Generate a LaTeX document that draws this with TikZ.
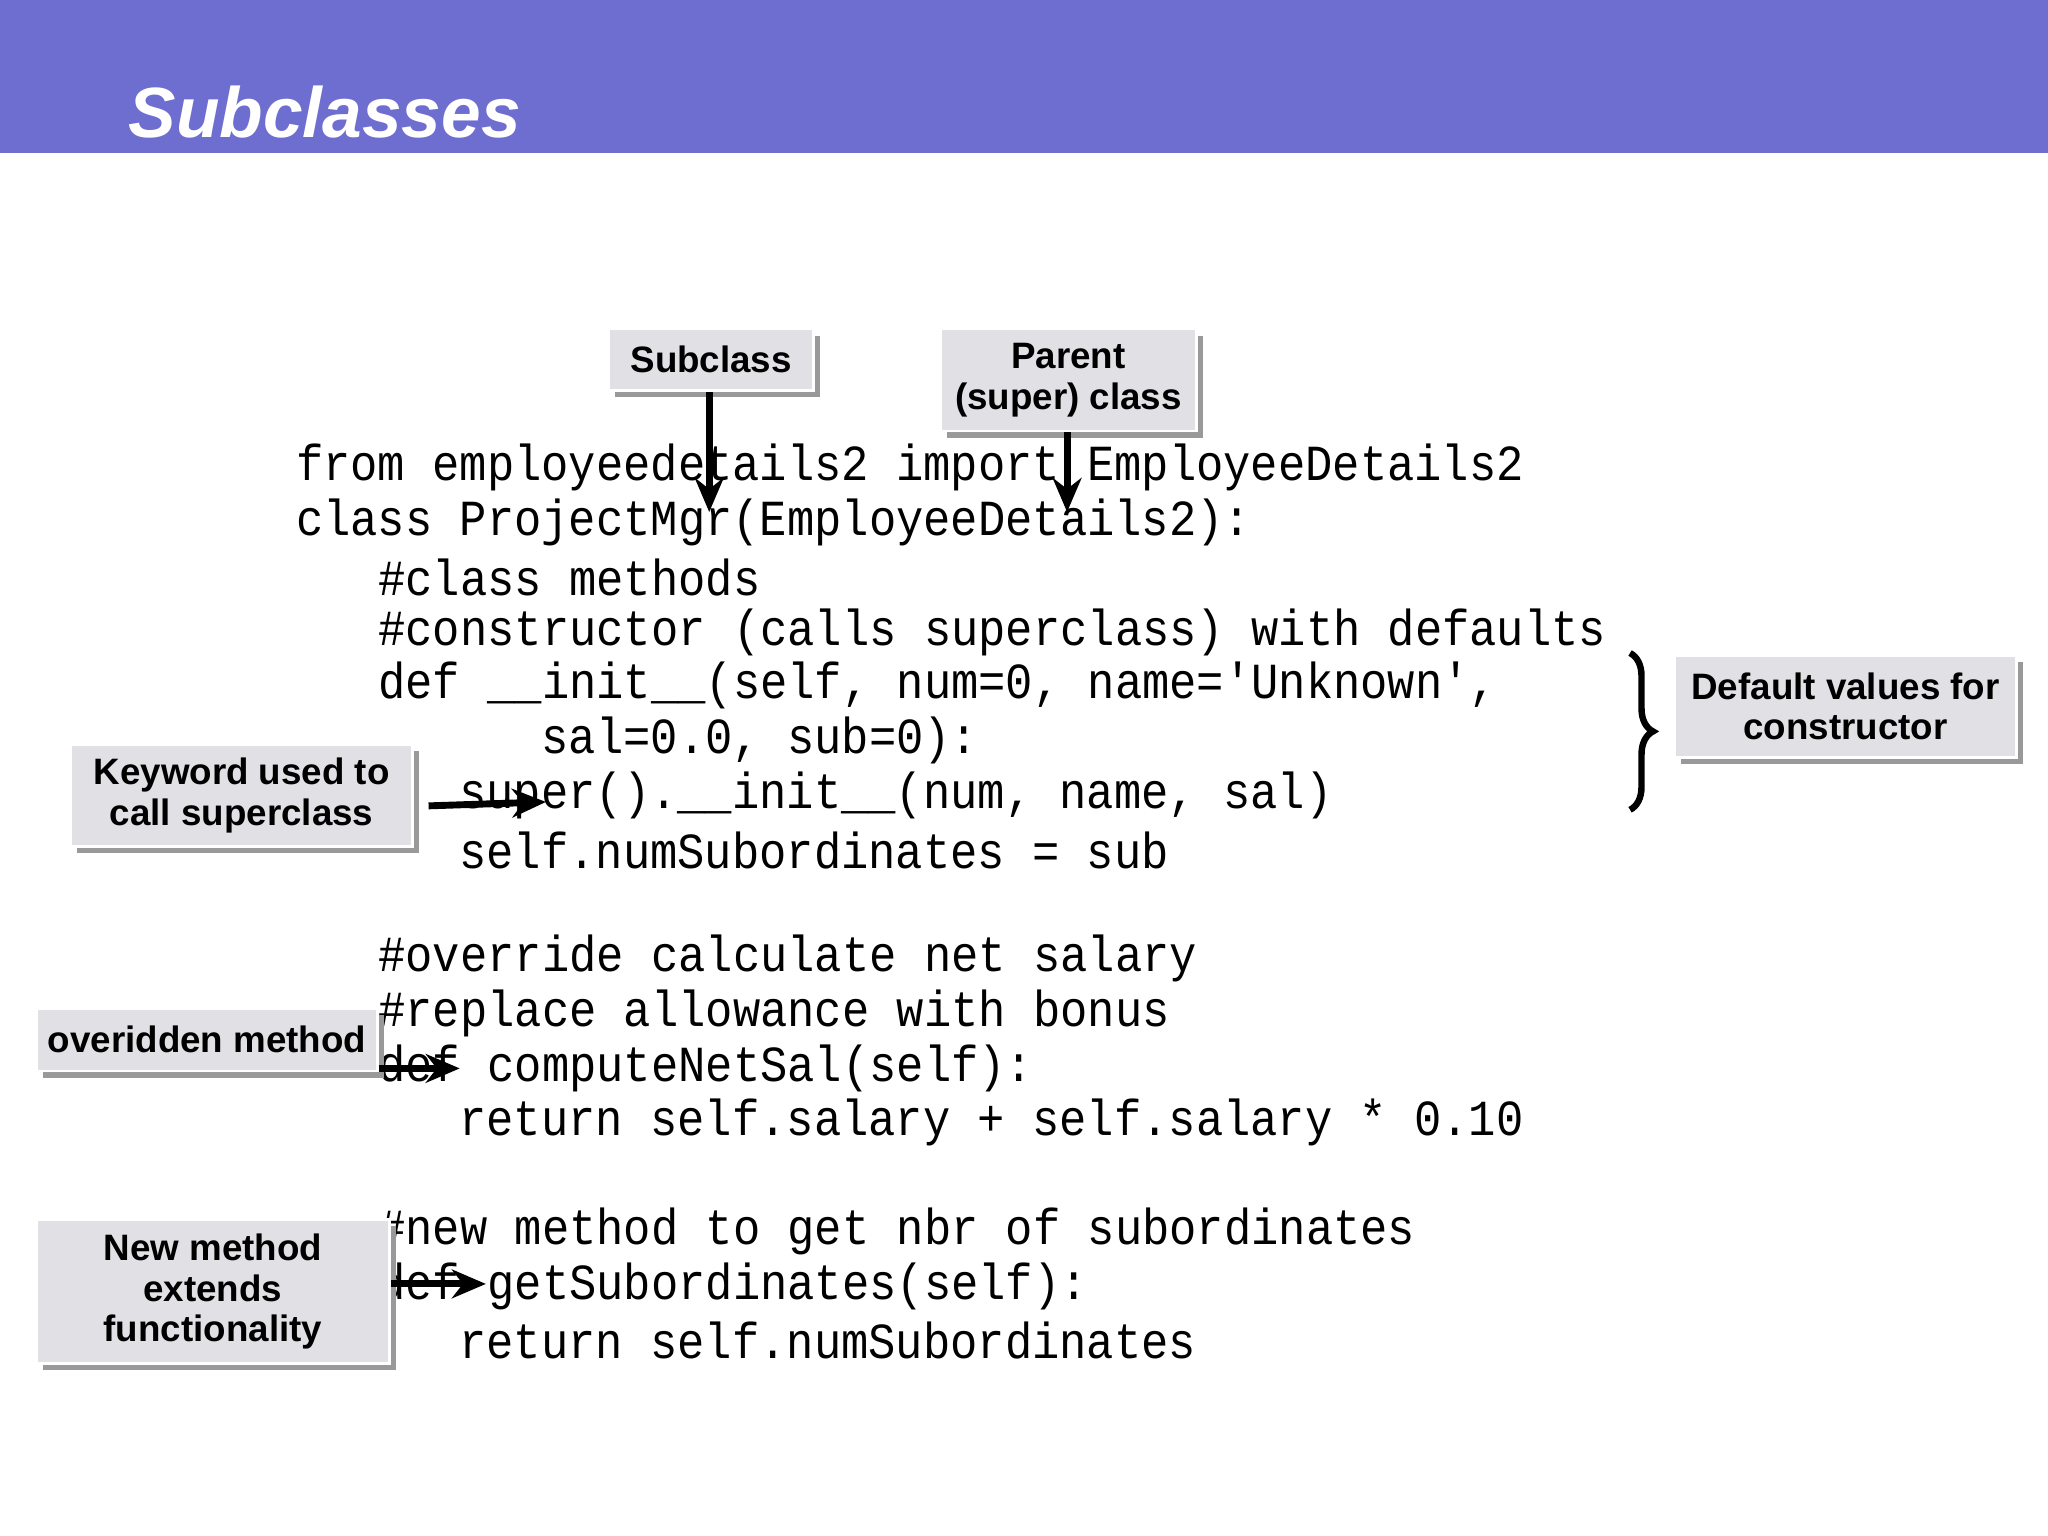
\documentclass[tikz,border=0pt]{standalone}
\usepackage{fontspec}
\setmainfont{Liberation Sans}
\newfontfamily\codefont[FakeStretch=0.9]{Liberation Mono}
\usetikzlibrary{arrows.meta,shadows,decorations.pathreplacing}
\definecolor{barblue}{HTML}{6E6ED0}
\definecolor{boxgray}{HTML}{E1E1E5}
\tikzset{
  code/.style={anchor=west,inner sep=0pt,font=\codefont\fontsize{11}{13}\selectfont},
  label/.style={draw=white,line width=0.6pt,fill=boxgray,align=center,inner sep=0pt,
    font=\bfseries\fontsize{8}{8.8}\selectfont,
    drop shadow={shadow xshift=0.5mm,shadow yshift=-0.5mm,fill=black!40,opacity=1}},
  pointer/.style={line width=1.5pt,-{Stealth[length=2.6mm,width=2.2mm]}}
}
\begin{document}
\begin{tikzpicture}[x=0.01cm,y=-0.01cm]
\useasboundingbox (0,0) rectangle (1568,1176);
\fill[barblue] (0,0) rectangle (1568,117);
\node[anchor=base west,inner sep=0pt,text=white,font=\bfseries\itshape\fontsize{15.5}{18}\selectfont] (title) at (98,105) {Subclasses};
% code
\node[code] (l1) at (226,358) {from employeedetails2 import EmployeeDetails2};
\node[code] (l2) at (226,400) {class ProjectMgr(EmployeeDetails2):};
\node[code] (l3) at (289,442) {\#class methods};
\node[code] (l4) at (289,484) {\#constructor (calls superclass) with defaults};
\node[code] (l5) at (289,525) {def \_\_init\_\_(self, num=0, name='Unknown',};
\node[code] (l6) at (414,567) {sal=0.0, sub=0):};
\node[code] (l7) at (351,609) {super().\_\_init\_\_(num, name, sal)};
\node[code] (l8) at (351,651) {self.numSubordinates = sub};
\node[code] (l9) at (289,734) {\#override calculate net salary};
\node[code] (l10) at (289,776) {\#replace allowance with bonus};
\node[code] (l11) at (289,818) {def computeNetSal(self):};
\node[code] (l12) at (351,859) {return self.salary + self.salary * 0.10};
\node[code] (l13) at (289,943) {\#new method to get nbr of subordinates};
\node[code] (l14) at (289,985) {def getSubordinates(self):};
\node[code] (l15) at (351,1026) {return self.numSubordinates};
% labels
\node[label,minimum width=1.57cm,minimum height=0.47cm] (sub) at (544.5,275.5) {Subclass};
\node[label,minimum width=1.96cm,minimum height=0.78cm] (parent) at (818,291) {Parent\\(super) class};
\node[label,minimum width=2.62cm,minimum height=0.78cm] (defaults) at (1413,541) {Default values for\\constructor};
\node[label,minimum width=2.62cm,minimum height=0.78cm] (keyword) at (185,609) {Keyword used to\\call superclass};
\node[label,minimum width=2.61cm,minimum height=0.48cm] (over) at (158.5,796) {overidden method};
\node[label,minimum width=2.70cm,minimum height=1.10cm] (newm) at (163,989) {New method\\extends\\functionality};
% arrows
\coordinate (subtip) at (543,392);
\coordinate (partip) at (817,392);
\coordinate (kwtip) at (418,614);
\coordinate (ovtip) at (352,818);
\coordinate (nwtip) at (372,983);
\draw[pointer] (sub.south -| subtip) -- (subtip);
\draw[pointer] (parent.south -| partip) -- (partip);
\draw[pointer] (keyword.east |- 0,617) ++(11,0) -- (kwtip);
\draw[pointer] (over.east |- ovtip) -- (ovtip);
\draw[pointer] (newm.east |- nwtip) -- (nwtip);
% brace
\coordinate (bt) at (1248,500);
\coordinate (bb) at (1248,620);
\draw[line width=1.4pt,decorate,decoration={brace,amplitude=5pt}] (bt) -- (bb);
\end{tikzpicture}
\end{document}
